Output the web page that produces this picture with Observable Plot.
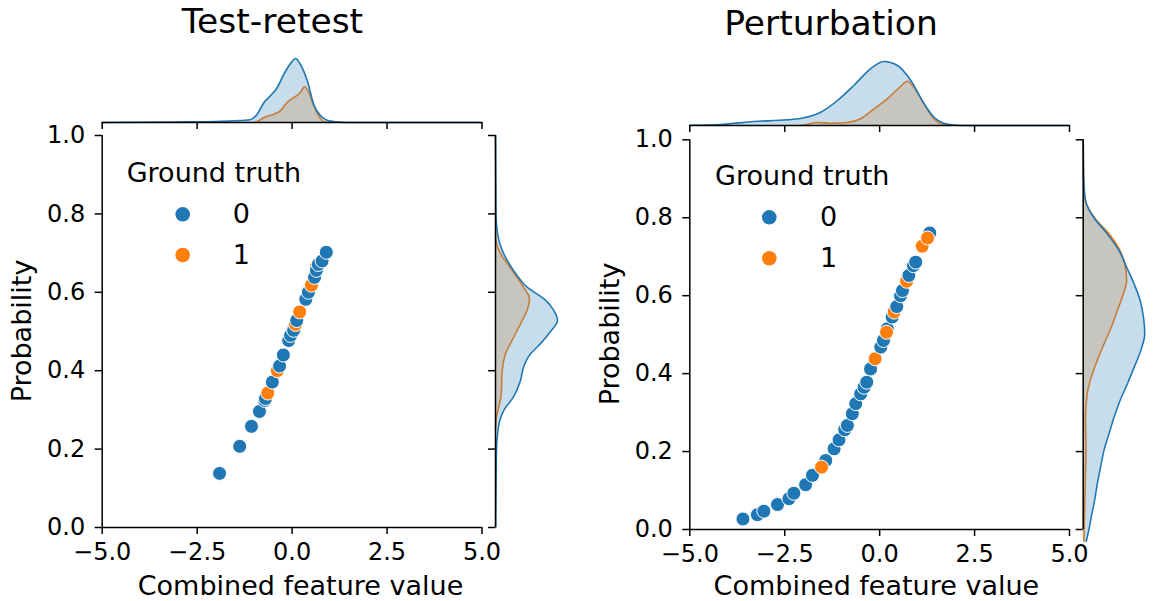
<!DOCTYPE html>
<html><head><meta charset="utf-8">
<script src="https://cdn.jsdelivr.net/npm/d3@7"></script>
<script src="https://cdn.jsdelivr.net/npm/@observablehq/plot@0.6"></script>
<style>
body{margin:0;background:#fff;}
#root{position:relative;width:1153px;height:601px;overflow:hidden;font-family:"DejaVu Sans";}
#root > svg{position:absolute;}
</style></head><body><div id="root"></div>
<script>
// ---------- data ----------
const groups = ["0", "1"];
const colors = ["#1f77b4", "#ff7f0e"];
const legendTitle = "Ground truth";
const xLabel = "Combined feature value";
const yLabel = "Probability";
const titles = ["Test-retest", "Perturbation"];
const xTicks = [-5, -2.5, 0, 2.5, 5];
const yTicks = [0, 0.2, 0.4, 0.6, 0.8, 1.0];

// Test-retest scatter
const trX = [-1.91,-1.38,-1.07,-0.86,-0.72,-0.70,-0.64,-0.52,-0.39,-0.33,-0.23,-0.09,-0.04,0.04,0.09,0.12,0.20,0.36,0.43,0.51,0.59,0.64,0.64,0.69,0.79,0.90];
const trY = [0.138,0.207,0.258,0.296,0.324,0.329,0.343,0.371,0.400,0.412,0.440,0.477,0.490,0.503,0.518,0.528,0.550,0.582,0.600,0.618,0.638,0.666,0.656,0.671,0.680,0.702];
const trG = [0,0,0,0,0,0,1,0,1,0,0,0,0,0,1,0,1,0,0,1,0,1,0,0,0,0];

// Perturbation scatter
const ptX = [-3.60,-3.22,-3.05,-2.69,-2.39,-2.26,-1.95,-1.77,-1.42,-1.53,-1.20,-1.07,-0.92,-0.85,-0.72,-0.63,-0.50,-0.41,-0.34,-0.24,-0.12,0.03,0.10,0.20,0.18,0.33,0.38,0.45,0.55,0.60,0.71,0.77,0.89,0.95,1.32,1.12,1.26];
const ptY = [0.027,0.038,0.047,0.064,0.079,0.093,0.115,0.139,0.177,0.160,0.207,0.230,0.256,0.267,0.297,0.323,0.348,0.365,0.378,0.412,0.438,0.468,0.485,0.515,0.506,0.545,0.558,0.572,0.600,0.613,0.637,0.652,0.677,0.686,0.761,0.727,0.748];
const ptG = [0,0,0,0,0,0,0,0,0,1,0,0,0,0,0,0,0,0,0,0,1,0,0,0,1,0,1,0,0,0,1,0,0,0,0,1,1];

// Marginal densities (relative units)
// Test-retest, top (over x)
const trTopBlueX = [-5,-3,-2,-1.5,-1.1,-0.92,-0.74,-0.57,-0.39,-0.22,-0.04,0.09,0.22,0.40,0.57,0.75,0.92,1.1,1.3,1.6,2.5,5];
const trTopBlueD = [0,0.005,0.01,0.017,0.027,0.083,0.20,0.267,0.35,0.48,0.59,0.64,0.58,0.417,0.18,0.067,0.023,0.01,0.003,0,0,0];
const trTopOrX = [-1.0,-0.92,-0.74,-0.48,-0.31,-0.13,0.05,0.22,0.33,0.44,0.57,0.70,0.83,1.0];
const trTopOrD = [0,0.01,0.05,0.083,0.117,0.20,0.25,0.30,0.357,0.30,0.167,0.067,0.007,0];
// Test-retest, right (over probability)
const trRightBlueY = [0,0.1,0.2,0.23,0.273,0.299,0.333,0.375,0.409,0.443,0.469,0.50,0.528,0.555,0.58,0.613,0.656,0.707,0.75,0.8,1.0];
const trRightBlueD = [0.002,0.005,0.01,0.017,0.043,0.083,0.18,0.25,0.28,0.35,0.45,0.55,0.62,0.58,0.50,0.317,0.18,0.067,0.02,0.005,0];
const trRightOrY = [0.25,0.282,0.307,0.341,0.40,0.443,0.486,0.528,0.554,0.584,0.613,0.656,0.699,0.724,0.75];
const trRightOrD = [0,0.01,0.033,0.057,0.067,0.10,0.183,0.267,0.317,0.34,0.28,0.167,0.05,0.01,0];
// Perturbation, top
const ptTopBlueX = [-5,-4.19,-3.31,-2.43,-1.99,-1.55,-1.11,-0.68,-0.24,0.11,0.47,0.82,1.17,1.43,1.69,1.96,2.3,5];
const ptTopBlueD = [0.003,0.01,0.04,0.057,0.077,0.133,0.25,0.40,0.567,0.64,0.60,0.45,0.217,0.083,0.023,0.005,0,0];
const ptTopOrX = [-2.1,-1.99,-1.64,-1.29,-0.85,-0.50,-0.15,0.20,0.55,0.73,0.90,1.17,1.43,1.61,1.8];
const ptTopOrD = [0,0.005,0.03,0.023,0.03,0.067,0.167,0.267,0.39,0.443,0.383,0.217,0.067,0.017,0];
// Perturbation, right
const ptRightBlueY = [-0.03,0.0,0.032,0.074,0.117,0.16,0.203,0.246,0.288,0.331,0.374,0.416,0.459,0.502,0.545,0.588,0.63,0.673,0.716,0.759,0.80,0.844,0.89,0.95,1.0];
const ptRightBlueD = [0.03,0.057,0.08,0.113,0.14,0.173,0.207,0.257,0.307,0.367,0.44,0.507,0.573,0.613,0.60,0.567,0.507,0.433,0.357,0.24,0.107,0.023,0.007,0.002,0];
const ptRightOrY = [-0.03,0.0,0.032,0.117,0.203,0.288,0.348,0.391,0.434,0.476,0.519,0.562,0.605,0.639,0.682,0.716,0.759,0.80,0.844,0.9,1.0];
const ptRightOrD = [0.008,0.01,0.013,0.02,0.027,0.023,0.04,0.08,0.14,0.207,0.28,0.34,0.40,0.433,0.413,0.367,0.257,0.113,0.023,0.003,0];

// ---------- drawing ----------
const root = document.getElementById("root");
const style = {background: "transparent", overflow: "visible", fontFamily: "DejaVu Sans", fontSize: "24px", color: "black"};
const fmt = d => d.toFixed(1).replace("-", "\u2212");
const zip = (a, b, ka, kb) => a.map((v, i) => ({[ka]: v, [kb]: b[i]}));

function place(svg, left, top) {
  svg.style.left = left + "px";
  svg.style.top = top + "px";
  root.appendChild(svg);
}

function mainPlot(X, Y, G, p) {
  const data = X.map((x, i) => ({x, y: Y[i], g: groups[G[i]]}));
  return Plot.plot({
    width: p.w, height: p.h,
    marginLeft: p.ml, marginRight: p.mr, marginTop: p.mt, marginBottom: p.mb,
    x: {domain: [-5, 5]}, y: {domain: [0, 1]},
    color: {domain: groups, range: colors},
    style,
    marks: [
      Plot.ruleX([-5], {y1: 0, y2: 1, strokeWidth: 1.5}),
      Plot.ruleY([0], {x1: -5, x2: 5, strokeWidth: 1.5}),
      Plot.axisX({ticks: xTicks, tickSize: 7, tickPadding: 8, tickFormat: fmt, label: null, strokeWidth: 1.5}),
      Plot.axisY({ticks: yTicks, tickSize: 7, tickPadding: 10, tickFormat: fmt, label: null, strokeWidth: 1.5}),
      Plot.dot(data, {x: "x", y: "y", fill: "g", r: 7, stroke: "white", strokeWidth: 1})
    ]
  });
}

function topPlot(bx, bd, ox, od, p) {
  const b = zip(bx, bd, "x", "d"), o = zip(ox, od, "x", "d");
  return Plot.plot({
    width: p.w, height: p.h,
    marginLeft: p.ml, marginRight: p.mr, marginTop: 0, marginBottom: p.mb,
    x: {domain: [-5, 5]}, y: {domain: [0, p.dmax], axis: null},
    style,
    marks: [
      Plot.areaY(o, {x: "x", y: "d", fill: colors[1], fillOpacity: 0.25, curve: "monotone-x"}),
      Plot.lineY(o, {x: "x", y: "d", stroke: colors[1], strokeWidth: 1.6, curve: "monotone-x"}),
      Plot.areaY(b, {x: "x", y: "d", fill: colors[0], fillOpacity: 0.25, curve: "monotone-x"}),
      Plot.lineY(b, {x: "x", y: "d", stroke: colors[0], strokeWidth: 1.6, curve: "monotone-x"}),
      Plot.ruleY([0], {x1: -5, x2: 5, strokeWidth: 1.5}),
      Plot.axisX({ticks: xTicks, tickSize: 7, tickFormat: () => "", label: null, strokeWidth: 1.5})
    ]
  });
}

function rightPlot(by, bd, oy, od, p) {
  const b = zip(by, bd, "y", "d"), o = zip(oy, od, "y", "d");
  return Plot.plot({
    width: p.w, height: p.h,
    marginLeft: p.ml, marginRight: 0, marginTop: p.mt, marginBottom: p.mb,
    x: {domain: [0, p.dmax], axis: null}, y: {domain: [0, 1]},
    style,
    marks: [
      Plot.areaX(o, {y: "y", x: "d", fill: colors[1], fillOpacity: 0.25, curve: "monotone-y"}),
      Plot.lineX(o, {y: "y", x: "d", stroke: colors[1], strokeWidth: 1.6, curve: "monotone-y"}),
      Plot.areaX(b, {y: "y", x: "d", fill: colors[0], fillOpacity: 0.25, curve: "monotone-y"}),
      Plot.lineX(b, {y: "y", x: "d", stroke: colors[0], strokeWidth: 1.6, curve: "monotone-y"}),
      Plot.ruleX([0], {y1: 0, y2: 1, strokeWidth: 1.5}),
      Plot.axisY({ticks: yTicks, tickSize: 7, tickFormat: () => "", label: null, strokeWidth: 1.5})
    ]
  });
}

// Left panel (Test-retest)
place(mainPlot(trX, trY, trG, {w: 520, h: 480, ml: 101.7, mr: 38.5, mt: 35, mb: 53}), 0, 100);
place(topPlot(trTopBlueX, trTopBlueD, trTopOrX, trTopOrD, {w: 520, h: 100, ml: 101.7, mr: 38.5, mb: 18, dmax: 0.82}), 0, 40);
place(rightPlot(trRightBlueY, trRightBlueD, trRightOrY, trRightOrD, {w: 100, h: 480, ml: 15, mt: 35, mb: 53, dmax: 0.85}), 480, 100);

// Right panel (Perturbation)
place(mainPlot(ptX, ptY, ptG, {w: 520, h: 480, ml: 101.3, mr: 39, mt: 39.3, mb: 51}), 588, 100);
place(topPlot(ptTopBlueX, ptTopBlueD, ptTopOrX, ptTopOrD, {w: 520, h: 103, ml: 101.3, mr: 39, mb: 18, dmax: 0.85}), 588, 40);
place(rightPlot(ptRightBlueY, ptRightBlueD, ptRightOrY, ptRightOrD, {w: 85, h: 480, ml: 14.7, mt: 39.3, mb: 51, dmax: 0.70}), 1068, 100);

// Text overlay: titles, axis labels, legends
const ov = d3.create("svg").attr("width", 1153).attr("height", 601)
  .style("left", "0px").style("top", "0px")
  .attr("font-family", "DejaVu Sans").attr("fill", "black");
const panels = [
  {title: titles[0], tx: 272.5, ty: 33, lx: 300.5, ly: 595, yx: 31, yy: 331, lg: {tx: 126.7, ty: 181.7, mx: 182.7, my: [214.3, 255], ax: 232.7}},
  {title: titles[1], tx: 831, ty: 35, lx: 876.4, ly: 595, yx: 619, yy: 334, lg: {tx: 715, ty: 184.7, mx: 769.3, my: [217.3, 258.3], ax: 820}}
];
for (const p of panels) {
  ov.append("text").attr("x", p.tx).attr("y", p.ty).attr("text-anchor", "middle").attr("font-size", 34.5).text(p.title);
  ov.append("text").attr("x", p.lx).attr("y", p.ly).attr("text-anchor", "middle").attr("font-size", 27).text(xLabel);
  ov.append("text").attr("transform", `translate(${p.yx},${p.yy}) rotate(-90)`).attr("text-anchor", "middle").attr("font-size", 27).text(yLabel);
  ov.append("text").attr("x", p.lg.tx).attr("y", p.lg.ty).attr("font-size", 27).text(legendTitle);
  groups.forEach((g, i) => {
    ov.append("circle").attr("cx", p.lg.mx).attr("cy", p.lg.my[i]).attr("r", 7.3).attr("fill", colors[i]);
    ov.append("text").attr("x", p.lg.ax).attr("y", p.lg.my[i] + 8.5).attr("font-size", 27).text(g);
  });
}
root.appendChild(ov.node());
</script></body></html>
